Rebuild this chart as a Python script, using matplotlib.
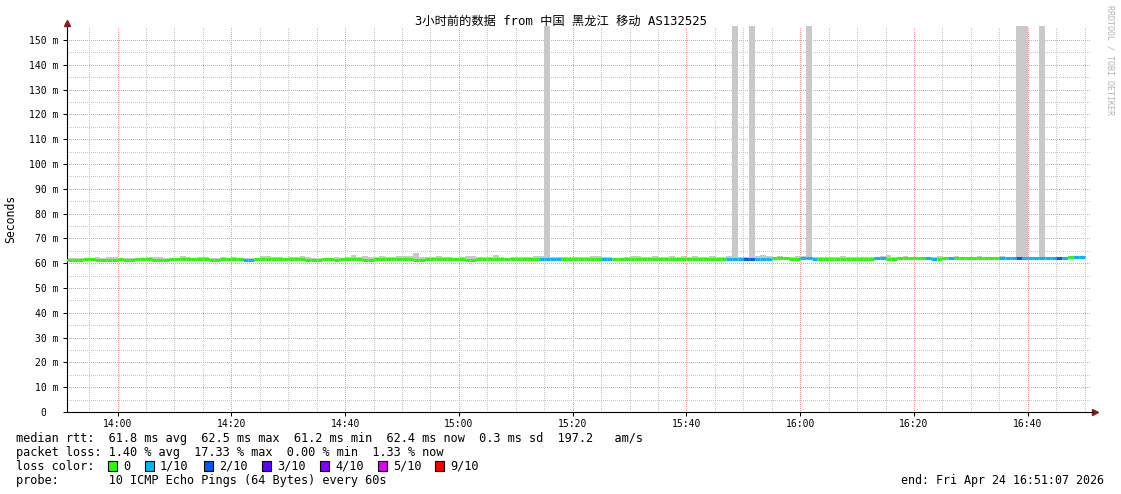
import matplotlib
matplotlib.use("Agg")
import matplotlib.pyplot as plt
from matplotlib.patches import Rectangle
from matplotlib.lines import Line2D
import numpy as np

# ---------------- data ----------------
title = "3小时前的数据 from 中国 黑龙江 移动 AS132525"
x_tick_labels = ["14:00", "14:20", "14:40", "15:00", "15:20", "15:40", "16:00", "16:20", "16:40"]
y_tick_values = [0, 10, 20, 30, 40, 50, 60, 70, 80, 90, 100, 110, 120, 130, 140, 150]
y_tick_labels = ["0  "] + [f"{v} m" for v in y_tick_values[1:]]

# median rtt per minute sample (ms), 13:52 ... 16:50
median_rtt = [
    61.4, 61.4, 61.4, 61.6, 61.5, 61.2, 61.2, 61.4, 61.4, 61.5,
    61.4, 61.4, 61.6, 61.6, 61.5, 61.3, 61.2, 61.2, 61.5, 61.6,
    61.5, 61.6, 61.6, 61.8, 61.8, 61.4, 61.4, 61.5, 61.5, 61.5,
    61.5, 61.4, 61.4, 61.6, 61.7, 61.7, 61.7, 61.6, 61.5, 61.5,
    61.5, 61.5, 61.4, 61.3, 61.3, 61.5, 61.5, 61.4, 61.6, 61.6,
    61.6, 61.6, 61.4, 61.4, 61.6, 61.6, 61.5, 61.5, 61.6, 61.6,
    61.5, 61.3, 61.3, 61.5, 61.6, 61.6, 61.5, 61.5, 61.7, 61.6,
    61.4, 61.4, 61.5, 61.7, 61.6, 61.6, 61.7, 61.7, 61.6, 61.6,
    61.5, 61.5, 61.7, 61.7, 61.5, 61.5, 61.6, 61.7, 61.8, 61.8,
    61.6, 61.6, 61.7, 61.7, 61.5, 61.5, 61.8, 61.8, 61.7, 61.7,
    61.7, 61.8, 61.8, 61.6, 61.6, 61.7, 61.8, 61.8, 61.7, 61.6,
    61.7, 61.7, 61.8, 61.8, 61.7, 61.8, 61.9, 61.8, 61.9, 61.7,
    61.7, 61.8, 61.9, 61.9, 62.1, 62.2, 62.0, 61.9, 61.9, 62.0,
    62.0, 61.9, 61.9, 61.8, 61.9, 61.9, 61.8, 61.8, 61.9, 61.9,
    61.8, 61.9, 62.0, 62.0, 61.9, 61.9, 62.0, 62.1, 62.1, 62.2,
    62.0, 62.0, 61.9, 61.9, 62.2, 62.1, 62.2, 62.1, 62.0, 62.1,
    62.2, 62.2, 62.1, 62.0, 62.1, 62.2, 62.1, 62.0, 62.1, 62.2,
    62.2, 62.1, 62.2, 62.1, 62.0, 62.1, 62.5, 62.4, 62.4,
]

# upper edge of the smoke (ms); spikes go beyond the top of the graph
smoke_top = [
    62.0, 62.2, 62.2, 61.8, 62.2, 62.4, 62.0, 62.4, 62.5, 62.0,
    62.3, 62.2, 62.2, 62.0, 62.4, 62.6, 62.6, 62.2, 62.1, 62.3,
    62.8, 62.5, 62.2, 62.4, 62.4, 62.2, 62.0, 62.6, 62.3, 62.6,
    62.2, 62.0, 62.0, 62.2, 63.0, 63.0, 62.7, 62.4, 62.3, 62.5,
    62.5, 62.8, 62.6, 62.2, 62.0, 62.2, 62.3, 62.5, 62.3, 62.6,
    63.4, 62.4, 62.8, 62.6, 62.6, 62.8, 62.5, 62.5, 62.8, 63.0,
    62.9, 64.0, 62.4, 62.4, 62.6, 62.9, 62.5, 62.4, 62.3, 62.5,
    62.8, 62.9, 62.4, 62.4, 62.5, 63.3, 62.6, 62.2, 62.6, 62.4,
    62.6, 62.5, 62.8, 63.0, 160.0, 62.7, 62.6, 62.6, 62.5, 62.4,
    62.6, 62.6, 63.0, 62.8, 62.4, 62.7, 62.3, 62.2, 62.6, 62.9,
    63.1, 62.6, 62.7, 62.8, 62.5, 62.6, 62.9, 62.4, 62.8, 62.6,
    62.9, 62.5, 62.7, 62.8, 62.6, 62.4, 62.8, 160.0, 62.6, 62.4,
    160.0, 62.8, 63.2, 62.9, 62.6, 62.8, 62.5, 62.7, 63.0, 62.8,
    160.0, 62.5, 62.6, 62.7, 62.4, 62.6, 62.8, 62.7, 62.6, 62.6,
    62.5, 62.7, 62.6, 62.8, 63.4, 62.6, 62.6, 62.8, 62.5, 62.6,
    62.7, 62.6, 62.5, 62.8, 62.7, 62.6, 62.8, 62.7, 62.5, 62.6,
    62.8, 62.6, 62.5, 62.6, 62.8, 62.7, 62.6, 160.0, 160.0, 62.6,
    62.7, 160.0, 62.7, 62.6, 62.6, 62.7, 62.8, 62.7, 62.6,
]

# lower edge of the smoke (ms)
smoke_bottom = [
    61.0, 61.1, 61.0, 61.2, 61.0, 60.9, 60.9, 61.0, 61.1, 61.1,
    61.0, 61.1, 61.2, 61.3, 61.2, 60.8, 60.9, 60.8, 61.1, 61.2,
    61.1, 61.2, 61.2, 61.4, 61.3, 61.0, 61.1, 61.2, 61.1, 61.0,
    61.2, 61.1, 61.1, 61.2, 61.3, 61.3, 61.3, 61.2, 61.1, 61.2,
    61.1, 61.2, 61.0, 60.9, 61.0, 61.1, 61.2, 61.0, 61.2, 61.2,
    61.2, 61.3, 61.0, 61.1, 61.2, 61.2, 61.2, 61.1, 61.3, 61.2,
    61.1, 60.9, 61.0, 61.1, 61.2, 61.3, 61.1, 61.2, 61.3, 61.2,
    61.0, 61.1, 61.2, 61.3, 61.2, 61.3, 61.3, 61.3, 61.2, 61.3,
    61.1, 61.2, 61.3, 61.4, 61.1, 61.2, 61.3, 61.3, 61.4, 61.4,
    61.3, 61.2, 61.3, 61.4, 61.1, 61.2, 61.4, 61.5, 61.3, 61.4,
    61.3, 61.4, 61.5, 61.2, 61.3, 61.3, 61.5, 61.4, 61.4, 61.3,
    61.4, 61.3, 61.5, 61.4, 61.4, 61.5, 61.5, 61.4, 61.6, 61.4,
    61.3, 61.5, 61.5, 61.6, 61.7, 61.8, 61.6, 61.6, 61.5, 61.6,
    61.6, 61.6, 61.5, 61.4, 61.6, 61.5, 61.5, 61.4, 61.6, 61.5,
    61.4, 61.6, 61.6, 61.7, 61.5, 61.6, 61.6, 61.8, 61.7, 61.8,
    61.7, 61.6, 61.6, 61.5, 61.8, 61.8, 61.8, 61.7, 61.6, 61.8,
    61.8, 61.9, 61.7, 61.7, 61.8, 61.9, 61.7, 61.7, 61.8, 61.8,
    61.9, 61.8, 61.8, 61.8, 61.7, 61.8, 62.0, 62.0, 62.1,
]

# packet loss per sample (lost pings out of 10)
loss = [
    0, 0, 0, 0, 0, 0, 0, 0, 0, 0,
    0, 0, 0, 0, 0, 0, 0, 0, 0, 0,
    0, 0, 0, 0, 0, 0, 0, 0, 0, 0,
    0, 1, 1, 0, 0, 0, 0, 0, 0, 0,
    0, 0, 0, 0, 0, 0, 0, 0, 0, 0,
    0, 0, 0, 0, 0, 0, 0, 0, 0, 0,
    0, 0, 0, 0, 0, 0, 0, 0, 0, 0,
    0, 0, 0, 0, 0, 0, 0, 0, 0, 0,
    0, 0, 0, 1, 1, 1, 1, 0, 0, 0,
    0, 0, 0, 0, 1, 1, 0, 0, 0, 0,
    0, 0, 0, 0, 0, 0, 0, 0, 0, 0,
    0, 0, 0, 0, 0, 0, 1, 1, 1, 2,
    2, 1, 1, 1, 0, 0, 0, 0, 0, 1,
    1, 1, 0, 0, 0, 0, 0, 0, 0, 0,
    0, 0, 1, 1, 0, 0, 0, 0, 0, 0,
    0, 1, 1, 0, 0, 1, 0, 0, 0, 0,
    0, 0, 0, 0, 1, 1, 1, 2, 1, 1,
    1, 1, 1, 1, 2, 1, 0, 1, 1,
]

loss_levels = [0, 1, 2, 3, 4, 5, 9]
loss_labels = ["0", "1/10", "2/10", "3/10", "4/10", "5/10", "9/10"]
loss_colors = ["#26ff00", "#00b8ff", "#0059ff", "#5e00ff", "#7e00ff", "#dd00ff", "#ff0000"]

legend_rtt = "median rtt:  61.8 ms avg  62.5 ms max  61.2 ms min  62.4 ms now  0.3 ms sd  197.2   am/s"
legend_loss = "packet loss: 1.40 % avg  17.33 % max  0.00 % min  1.33 % now"
legend_probe = "probe:       10 ICMP Echo Pings (64 Bytes) every 60s"
legend_end = "end: Fri Apr 24 16:51:07 2026"

# ---------------- figure ----------------
W, H, DPI = 1121, 494, 100
fig = plt.figure(figsize=(W / DPI, H / DPI), dpi=DPI, facecolor="white")


def fx(px):
    return px / W


def fy(py):
    return 1 - py / H


MONO = "DejaVu Sans Mono"
ax = fig.add_axes([fx(67), fy(412), fx(1091) - fx(67), fy(26.4) - fy(412)])
ax.set_facecolor("white")

# time axis: minutes after 13:51:07; first sample ends at 13:52:00
first_end = 53 / 60
n = len(median_rtt)
left = np.arange(n) + first_end - 1
ax.set_xlim(0, 180)
ax.set_ylim(0, 155.5)

# grid
major_x = first_end + 8 + 20 * np.arange(len(x_tick_labels))
minor_x = np.arange(first_end + 3, 180, 5)
ax.set_xticks(major_x)
ax.set_xticklabels(x_tick_labels, family=MONO, fontsize=7)
ax.set_xticks(minor_x, minor=True)
ax.set_yticks(y_tick_values)
ax.set_yticklabels(y_tick_labels, family=MONO, fontsize=7)
ax.set_yticks(np.arange(5, 155, 10), minor=True)
ax.grid(which="minor", color="#c6c6c6", linewidth=0.72, linestyle=(0, (1, 2)), antialiased=False)
ax.grid(which="major", color="#f59a9a", linewidth=0.72, linestyle=(0, (1, 2)), antialiased=False)
ax.set_axisbelow(True)
ax.tick_params(which="major", length=3, width=0.75, color="black", pad=2)
ax.tick_params(which="minor", length=0)
ax.tick_params(axis="y", pad=3)
for s in ["top", "right"]:
    ax.spines[s].set_visible(False)
for s in ["left", "bottom"]:
    ax.spines[s].set_color("black")
    ax.spines[s].set_linewidth(0.8)

# smoke
smoke_top_a = np.array(smoke_top)
smoke_bot_a = np.array(smoke_bottom)
ax.bar(left, smoke_top_a - smoke_bot_a, bottom=smoke_bot_a, width=1.0, align="edge",
       color="#c9c9c9", linewidth=0, zorder=2)

# median line coloured by loss
cmap = dict(zip(loss_levels, loss_colors))
seg_colors = [cmap[l] for l in loss]
ax.hlines(median_rtt, left, left + 1, colors=seg_colors, linewidth=2.2, capstyle="butt", zorder=3)
ax.vlines(left[1:], median_rtt[:-1], median_rtt[1:], colors=seg_colors[1:], linewidth=2.2, zorder=3)

# axis arrows
fig.add_artist(Line2D([fx(67)], [fy(23.5)], marker="^", markersize=4.5, color="#8b1a1a",
                      transform=fig.transFigure))
fig.add_artist(Line2D([fx(1095)], [fy(412)], marker=">", markersize=4.5, color="#8b1a1a",
                      transform=fig.transFigure))
fig.add_artist(Line2D([fx(1091), fx(1093)], [fy(412), fy(412)], color="black", lw=0.8,
                      transform=fig.transFigure))

# texts
fig.text(fx(561), fy(21), title, ha="center", va="center", fontsize=8.8,
         family=[MONO, "Noto Sans CJK SC"])
fig.text(fx(11), fy(219), "Seconds", rotation=90, ha="center", va="center", fontsize=8.3, family=MONO)
fig.text(fx(1110), fy(5), "RRDTOOL / TOBI OETIKER", rotation=270, ha="center", va="top",
         fontsize=6, color="#b4b4b4", family=MONO)

fs = 8.55
fig.text(fx(16), fy(438), legend_rtt, ha="left", va="center", fontsize=fs, family=MONO)
fig.text(fx(16), fy(452), legend_loss, ha="left", va="center", fontsize=fs, family=MONO)
fig.text(fx(16), fy(466), "loss color:", ha="left", va="center", fontsize=fs, family=MONO)
fig.text(fx(16), fy(480), legend_probe, ha="left", va="center", fontsize=fs, family=MONO)
fig.text(fx(1104), fy(480), legend_end, ha="right", va="center", fontsize=8.4, family=MONO)

box_x = [108, 145, 204, 262, 320, 378, 435]
for bx, lab, col in zip(box_x, loss_labels, loss_colors):
    fig.add_artist(Rectangle((fx(bx), fy(471)), 9 / W, 10 / H, facecolor=col, edgecolor="black",
                             linewidth=0.8, transform=fig.transFigure))
    fig.text(fx(bx + 15), fy(466), lab, ha="left", va="center", fontsize=fs, family=MONO)

fig.savefig("out.png", dpi=DPI, facecolor="white")
